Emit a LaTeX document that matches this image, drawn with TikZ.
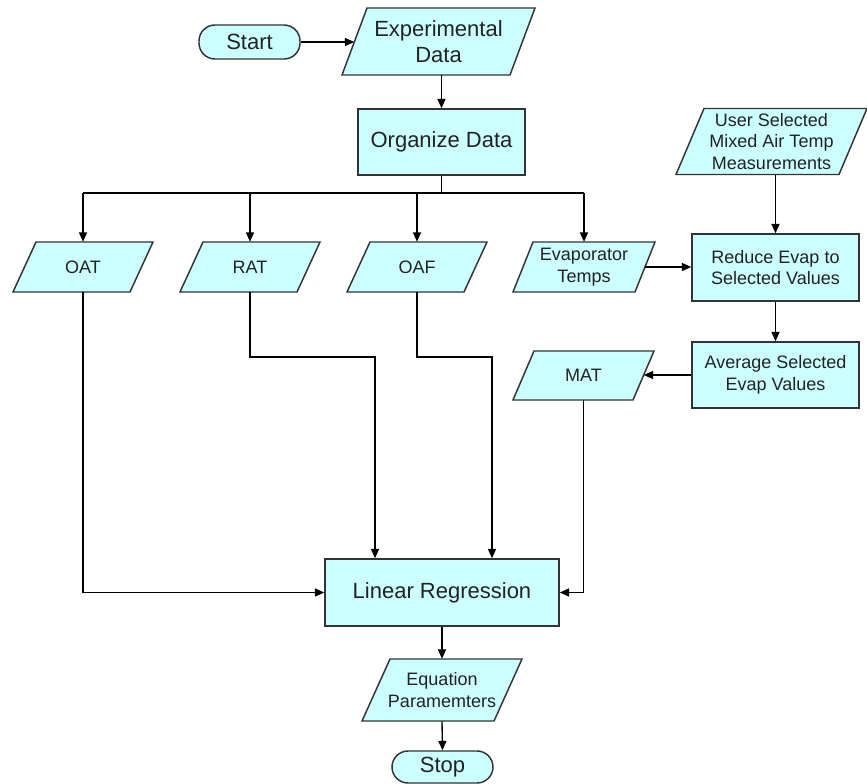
\documentclass[tikz,border=0pt]{standalone}
\usepackage{fontspec}
\setmainfont{Liberation Sans}
\usetikzlibrary{arrows.meta,calc}

\definecolor{boxfill}{HTML}{CCFFFF}
\definecolor{boxline}{HTML}{333333}
\definecolor{ink}{HTML}{222222}

\tikzset{
  px/.style={x=0.75pt,y=-0.75pt},
  shapeline/.style={draw=boxline,line width=1.1pt,fill=boxfill},
  process/.style={shapeline,rectangle,inner sep=0pt,align=center,text=ink},
  terminal/.style={shapeline,rectangle,rounded corners=12pt,inner sep=0pt,align=center,text=ink},
  iotext/.style={rectangle,inner sep=0pt,align=center,text=ink},
  bigtext/.style={font=\fontsize{16.5pt}{20pt}\selectfont},
  smalltext/.style={font=\fontsize{13.5pt}{16.2pt}\selectfont},
  flow/.style={draw=black,line width=1pt,-{Triangle[length=7pt,width=6pt]}},
  plain/.style={draw=black,line width=1pt},
}

% data (input/output) parallelogram:
% #1 name, #2 centre x, #3 centre y, #4 edge length, #5 height, #6 slant offset, #7 font style, #8 text
\newcommand\databox[8]{%
  \path[shapeline] (#2-#4/2+#6/2,#3-#5/2) -- (#2+#4/2+#6/2,#3-#5/2)
     -- (#2+#4/2-#6/2,#3+#5/2) -- (#2-#4/2-#6/2,#3+#5/2) -- cycle;
  \node[iotext,#7,minimum width=#4*0.75pt,minimum height=#5*0.75pt] (#1) at (#2,#3) {#8};
}

\begin{document}
\begin{tikzpicture}[px]
\useasboundingbox[fill=white] (0,0) rectangle (867,784);

% terminals and process steps
\node[terminal,bigtext,minimum width=101*0.75pt,minimum height=34*0.75pt] (start) at (249.5,42) {Start};
\databox{exp}{438.5}{41.5}{168}{67}{25}{bigtext}{Experimental\\Data}
\node[process,bigtext,minimum width=167*0.75pt,minimum height=66*0.75pt] (org) at (441.5,142) {Organize Data};

\databox{oat}{83}{267}{117}{50}{23}{smalltext}{OAT}
\databox{rat}{250}{267}{117}{50}{23}{smalltext}{RAT}
\databox{oaf}{417}{267}{117}{50}{23}{smalltext}{OAF}
\databox{evap}{584}{267}{122}{50}{20}{smalltext}{Evaporator\\Temps}
\databox{user}{771.5}{141.5}{163}{66}{28}{smalltext}{User Selected\\Mixed Air Temp\\Measurements}

\node[process,smalltext,minimum width=167*0.75pt,minimum height=67*0.75pt] (reduce) at (775.5,267.5) {Reduce Evap to\\Selected Values};
\node[process,smalltext,minimum width=167*0.75pt,minimum height=66*0.75pt] (avg) at (775.5,375) {Average Selected\\Evap Values};
\databox{mat}{583.5}{375.5}{120}{49}{21}{smalltext}{MAT}

\node[process,bigtext,minimum width=234*0.75pt,minimum height=67*0.75pt] (lr) at (442,592.5) {Linear Regression};
\databox{eq}{442}{690}{132}{62}{28}{smalltext}{Equation\\Paramemters}
\node[terminal,bigtext,minimum width=101*0.75pt,minimum height=32*0.75pt] (stop) at (442.5,767) {Stop};

% junction points of the connectors
\coordinate (bus) at (441.5,193);
\coordinate (ratjoin) at (375,357);
\coordinate (oafjoin) at (492,357);

% connectors
\draw[flow] (start.east) -- (start.east -| exp.west);
\draw[flow] (org.north |- exp.south) -- (org.north);
\draw[plain] (org.south) -- (bus);
\draw[plain] (oat.north |- bus) -- (evap.north |- bus);
\draw[flow] (oat.north |- bus) -- (oat.north);
\draw[flow] (rat.north |- bus) -- (rat.north);
\draw[flow] (oaf.north |- bus) -- (oaf.north);
\draw[flow] (evap.north |- bus) -- (evap.north);

\draw[flow] (reduce.north |- user.south) -- (reduce.north);
\draw[flow] (evap.east) -- (evap.east -| reduce.west);
\draw[flow] (reduce.south) -- (avg.north);
\draw[flow] (avg.west) -- (avg.west -| mat.east);

\draw[flow] (oat.south) |- (lr.west);
\draw[flow] (rat.south) |- (ratjoin) -- (ratjoin |- lr.north);
\draw[flow] (oaf.south) |- (oafjoin) -- (oafjoin |- lr.north);
\draw[flow] (mat.south) |- (lr.east);

\draw[flow] (lr.south) -- (eq.north);
\draw[flow] (eq.south) -- (stop.north);
\end{tikzpicture}
\end{document}
